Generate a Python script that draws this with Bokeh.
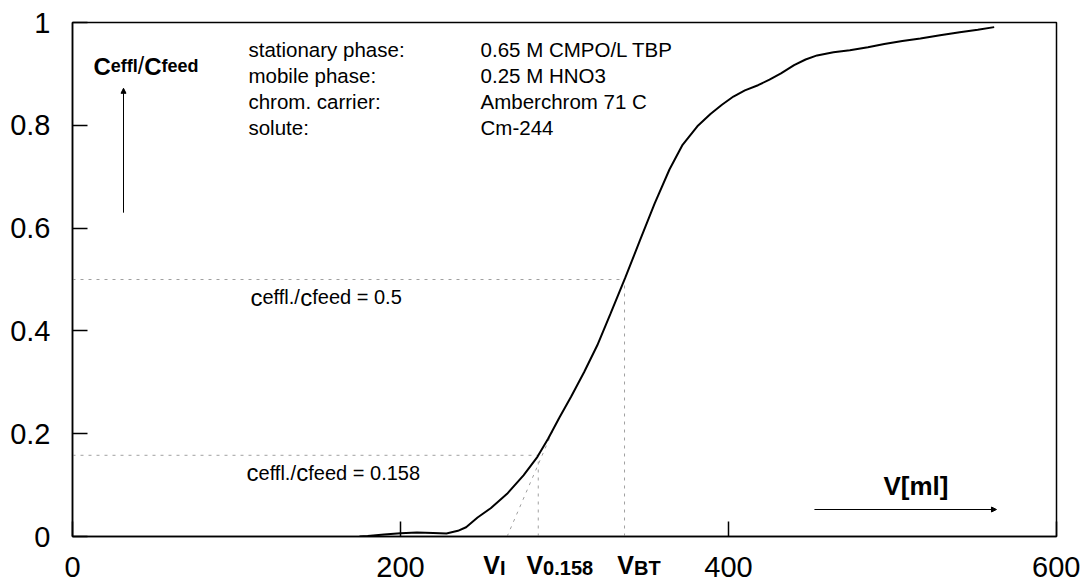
from bokeh.plotting import figure
from bokeh.models import (Range1d, FixedTicker, CustomJSTickFormatter, Label,
                          Arrow, NormalHead, LinearAxis)
from bokeh.embed import file_html
from bokeh.resources import INLINE

# ---------------- data ----------------
volume_ml = [175, 180, 190, 200, 210, 220, 228, 235, 240, 247, 255, 265, 275,
             283.5, 290, 297, 304, 312, 320, 328, 337, 346, 355, 364, 372, 381,
             389, 396, 403, 410, 418, 425, 432, 440, 447, 454, 464, 474, 485,
             495, 506, 517, 529, 541, 552, 562]
c_ratio = [0.0, 0.001, 0.004, 0.0065, 0.008, 0.007, 0.006, 0.011, 0.018, 0.037,
           0.055, 0.083, 0.119, 0.155, 0.19, 0.232, 0.272, 0.32, 0.372, 0.433,
           0.503, 0.576, 0.648, 0.714, 0.762, 0.798, 0.822, 0.84, 0.856, 0.868,
           0.878, 0.889, 0.901, 0.917, 0.928, 0.936, 0.942, 0.946, 0.952,
           0.958, 0.964, 0.969, 0.975, 0.981, 0.986, 0.991]

x_ticks = [0, 200, 400, 600]
y_ticks = [0, 0.2, 0.4, 0.6, 0.8, 1.0]

level_bt = 0.5          # ceffl/cfeed at breakthrough
level_0158 = 0.158      # ceffl/cfeed at V0.158
v_bt = 336.6
v_0158 = 284.0
v_i = 265.0
tangent_end_v = 296.0
tangent_end_c = 0.229

info_keys = ["stationary phase:", "mobile phase:", "chrom. carrier:", "solute:"]
info_vals = ["0.65 M CMPO/L TBP", "0.25 M HNO3", "Amberchrom 71 C", "Cm-244"]

vol_label_main = ["V", "V", "V"]
vol_label_sub = ["I", "0.158", "BT"]

FONT = "Liberation Sans"
PX_PER_ML = 984 / 600.0

# Arial / Liberation Sans advance widths (1/1000 em)
W_REG = {' ': 278, '.': 278, '/': 278, '=': 584, 'C': 722, 'V': 667, 'c': 500,
         'd': 556, 'e': 556, 'f': 278, 'l': 222}
W_BOLD = {' ': 278, '.': 278, '/': 278, 'B': 722, 'C': 722, 'I': 278, 'T': 611,
          'V': 667, '[': 333, ']': 333, 'd': 611, 'e': 556, 'f': 333, 'l': 278,
          'm': 889}


def tw(s, size, bold=False):
    t = W_BOLD if bold else W_REG
    return sum(t.get(ch, 556) for ch in s) * size / 1000.0


p = figure(width=1080, height=581, output_backend="svg", toolbar_location=None,
           x_range=Range1d(0, 600), y_range=Range1d(0, 1),
           min_border_left=72, min_border_right=24, min_border_top=22,
           min_border_bottom=45)
p.background_fill_color = "white"
p.border_fill_color = "white"
p.outline_line_color = "black"
p.outline_line_width = 1.5
p.grid.visible = False


def rich(x, y, parts):
    off = 0.0
    for text, size, bold in parts:
        p.add_layout(Label(x=x, y=y, x_offset=off, text=text,
                           text_font=FONT, text_font_size=f"{size}px",
                           text_font_style="bold" if bold else "normal",
                           text_baseline="alphabetic", text_align="left",
                           text_color="black"))
        off += tw(text, size, bold)


# axes
for ax, ticks in ((p.xaxis[0], x_ticks), (p.yaxis[0], y_ticks)):
    ax.ticker = FixedTicker(ticks=ticks)
    ax.formatter = CustomJSTickFormatter(code="return String(tick)")
    ax.major_tick_in = 15
    ax.major_tick_out = 0
    ax.minor_tick_in = 0
    ax.minor_tick_out = 0
    ax.axis_line_width = 1.5
    ax.major_tick_line_width = 1.5
    ax.axis_line_color = "black"
    ax.major_tick_line_color = "black"
    ax.major_label_text_font = FONT
    ax.major_label_text_color = "black"
p.xaxis.major_label_text_font_size = "29px"
p.xaxis.major_label_standoff = 20
p.yaxis.major_label_text_font_size = "29px"
p.yaxis.major_label_standoff = 22


# characteristic-volume labels (V_I, V_0.158, V_BT) as extra label-only axes
def label_axis(names, anchors, size, standoff):
    ax = LinearAxis(ticker=FixedTicker(ticks=anchors),
                    formatter=CustomJSTickFormatter(args=dict(names=names),
                                                    code="return names[index]"),
                    axis_line_color=None, major_tick_line_color=None,
                    minor_tick_line_color=None, major_tick_in=0,
                    major_tick_out=0, minor_tick_in=0, minor_tick_out=0,
                    major_label_standoff=standoff, major_label_text_font=FONT,
                    major_label_text_font_size=f"{size}px",
                    major_label_text_font_style="bold",
                    major_label_text_color="black")
    p.add_layout(ax, "below")


V_SIZE, SUB_SIZE = 25, 20
label_left = [250.5, 276.8, 332.2]      # left edge of each V label (ml)
main_anchor = [L + tw("V", V_SIZE, True) / 2 / PX_PER_ML for L in label_left]
sub_anchor = [L + (tw("V", V_SIZE, True) + tw(s, SUB_SIZE, True) / 2) / PX_PER_ML
              for L, s in zip(label_left, vol_label_sub)]
label_axis(vol_label_main, main_anchor, V_SIZE, -29)
label_axis(vol_label_sub, sub_anchor, SUB_SIZE, -25)

# dotted guide lines
dot = dict(line_color="#a0a0a0", line_width=1, line_dash="3 5")
p.line([0, v_bt], [level_bt, level_bt], **dot)
p.line([v_bt, v_bt], [0, level_bt], **dot)
p.line([0, v_0158], [level_0158, level_0158], **dot)
p.line([v_0158, v_0158], [0, level_0158], **dot)
p.line([v_i, tangent_end_v], [0, tangent_end_c], **dot)

# breakthrough curve
p.line(volume_ml, c_ratio, line_color="black", line_width=2)

# info block
for i, (k, v) in enumerate(zip(info_keys, info_vals)):
    yb = 0.9475 - i * 0.0506
    for xx, txt in ((107.3, k), (248.8, v)):
        p.add_layout(Label(x=xx, y=yb, text=txt, text_font=FONT,
                           text_font_size="20.5px", text_baseline="alphabetic",
                           text_color="black"))

# y-label with arrow
rich(12.8, 0.9144, [("C", 24, True), ("effl", 18, True), ("/", 23, False),
                    ("C", 24, True), ("feed", 18, True)])
p.add_layout(Arrow(x_start=31.1, y_start=0.630, x_end=31.1, y_end=0.872,
                   line_color="black", line_width=1,
                   end=NormalHead(size=5, line_color="black", fill_color="black")))

# level annotations
rich(108.5, 0.465, [("c", 24, False), ("effl./", 20, False), ("c", 24, False),
                    ("feed = 0.5", 20, False)])
rich(106.1, 0.1245, [("c", 24, False), ("effl./", 20, False), ("c", 24, False),
                     ("feed = 0.158", 20, False)])

# x-label with arrow
rich(494.5, 0.0973, [("V[ml]", 26, True)])
p.add_layout(Arrow(x_start=452.4, y_start=0.0525, x_end=563.4, y_end=0.0525,
                   line_color="black", line_width=1,
                   end=NormalHead(size=5, line_color="black", fill_color="black")))

open("out.html", "w").write(file_html(p, INLINE))
